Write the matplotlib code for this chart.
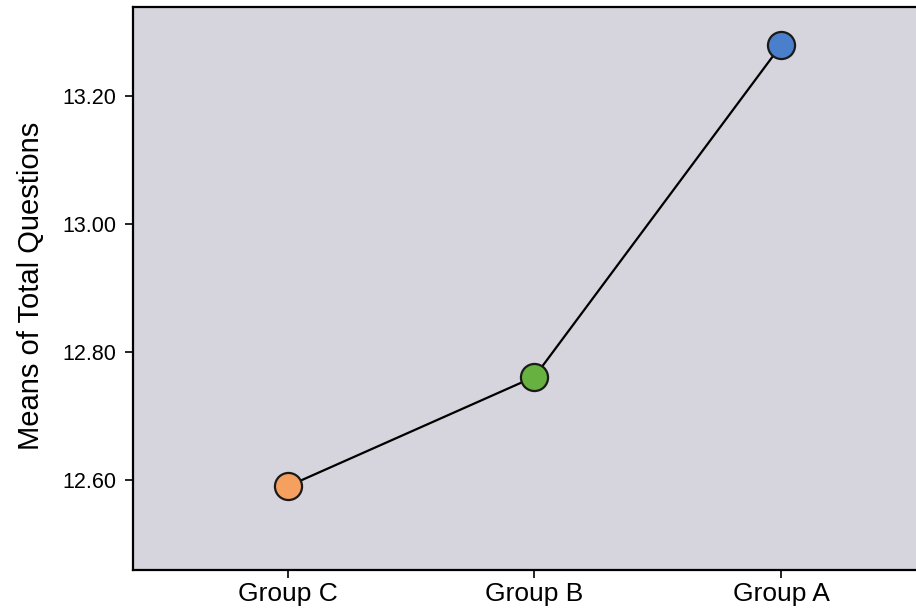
import matplotlib
matplotlib.use("Agg")
import matplotlib.pyplot as plt

plt.rcParams['font.family'] = ['Liberation Sans', 'DejaVu Sans']

groups = ["Group C", "Group B", "Group A"]
means = [12.590, 12.761, 13.279]
colors = ["#f5a05e", "#67b140", "#4a80cb"]
yticks = [12.60, 12.80, 13.00, 13.20]

fig = plt.figure(figsize=(9.16, 6.15), dpi=100)
ax = fig.add_axes([133/916, 45/615, 1 - 133/916, (571-8)/615])
ax.set_facecolor("#d6d4dc")
x = list(range(len(groups)))
ax.plot(x, means, color="black", lw=1.6, zorder=2)
for xi, m, c in zip(x, means, colors):
    ax.plot(xi, m, 'o', ms=19.5, mfc=c, mec="#1a1a1a", mew=1.6, zorder=3)

ax.set_xlim(-0.629, 2.548)
ax.set_ylim(12.459, 13.339)
ax.set_xticks(x)
ax.set_xticklabels(groups, fontsize=19)
ax.set_yticks(yticks)
ax.set_yticklabels([f"{v:.2f}" for v in yticks], fontsize=15.5)
ax.set_ylabel("Means of Total Questions", fontsize=21, va='center')
ax.yaxis.set_label_coords((31-133)/783, (571-287)/563)
ax.spines['right'].set_visible(False)
for s in ['left', 'bottom', 'top']:
    ax.spines[s].set_linewidth(1.6)
ax.tick_params(axis='both', length=6, width=1.2, color='black')
ax.tick_params(axis='x', pad=3)
ax.tick_params(axis='y', pad=6)

fig.savefig("out.png", dpi=100)
